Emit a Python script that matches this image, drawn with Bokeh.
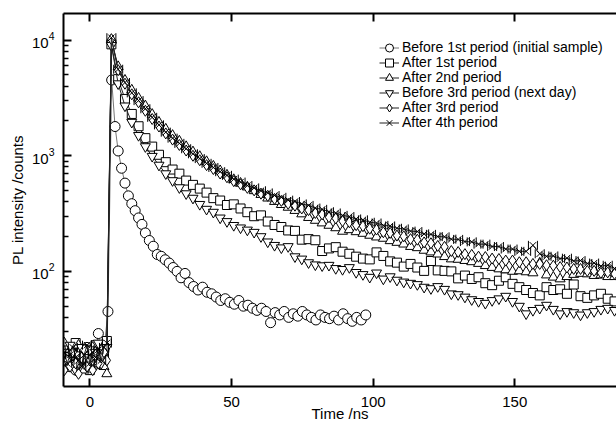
import math
from bokeh.plotting import figure
from bokeh.models import (Range1d, FixedTicker, LinearAxis, Legend, LegendItem,
                          LogTickFormatter, CustomJSTickFormatter)
from bokeh.embed import file_html
from bokeh.resources import INLINE

# ---------------- data ----------------
X_TICKS = [0, 50, 100, 150]
Y_TICKS = [100, 1000, 10000]
Y_MINOR = [20, 30, 40, 50, 60, 70, 80, 90,
           200, 300, 400, 500, 600, 700, 800, 900,
           2000, 3000, 4000, 5000, 6000, 7000, 8000, 9000]

LABELS = ["Before 1st period (initial sample)", "After 1st period", "After 2nd period",
          "Before 3rd period (next day)", "After 3rd period", "After 4th period"]

# series 1 (circles): own time base
C_T = [-9, -8, -7, -6, -5, -4, -3, -2, -1, 0, 1, 2, 3, 4, 5, 6.4,
       7.7, 8.9, 10.0, 11.2, 12.4, 13.6, 14.8, 16.0, 17.2, 18.4,
       19.6, 21.0, 22.4, 23.8, 25.2, 26.6, 28.0, 29.4, 30.8, 32.2,
       33.6, 35.0, 36.6, 38.2, 39.8, 41.4, 43.0, 44.6, 46.2, 47.8,
       49.4, 51.0, 52.6, 54.2, 55.8, 57.4, 59.0, 60.6, 62.2, 63.8,
       65.4, 67.0, 68.6, 70.2, 71.8, 73.4, 75.0, 76.6, 78.2, 79.8,
       81.4, 83.0, 84.6, 86.2, 87.8, 89.4, 91.0, 92.6, 94.2, 95.8,
       97.4]
C_V = [18, 15, 21, 17, 14, 20, 16, 19, 22, 17, 15, 20, 29, 18, 21, 45,
       4520, 1790, 1100, 780, 580, 450, 385, 335, 290, 255,
       215, 185, 165, 140, 135, 126, 118, 108, 100, 88,
       96, 80, 74, 69, 73, 66, 64, 60, 56, 58,
       54, 52, 56, 50, 51, 48, 46, 48, 45, 36,
       44, 42, 45, 40, 43, 41, 45, 42, 40, 38,
       42, 40, 39, 41, 38, 43, 39, 37, 40, 38,
       42]

# shared time base for series 2-6
PRE_T = [-9, -8, -7, -6, -5, -4, -3, -2, -1, 0, 1, 2, 3, 4, 5, 6]
DECAY_T = [7.6, 10.0, 12.4, 14.8, 17.2, 19.6, 22.0, 24.4, 26.8, 29.2,
           31.6, 34.0, 36.4, 38.8, 41.2, 43.6, 46.0, 48.4, 50.8, 53.2,
           55.6, 58.0, 60.4, 62.8, 65.2, 67.6, 70.0, 72.4, 74.8, 77.2,
           79.6, 82.0, 84.4, 86.8, 89.2, 91.6, 94.0, 96.4, 98.8, 101.2,
           103.6, 106.0, 108.4, 110.8, 113.2, 115.6, 118.0, 120.4, 122.8, 125.2,
           127.6, 130.0, 132.4, 134.8, 137.2, 139.6, 142.0, 144.4, 146.8, 149.2,
           151.6, 154.0, 156.4, 158.8, 161.2, 163.6, 166.0, 168.4, 170.8, 173.2,
           175.6, 178.0, 180.4, 182.8, 185.2, 187.6]

S_PRE = [19, 22, 16, 18, 24, 15, 20, 17, 21, 14, 19, 23, 16, 20, 18, 25]
S_V = [9200, 4600, 3100, 2300, 1800, 1420, 1200, 1020, 880, 760,
       700, 610, 560, 520, 480, 430, 410, 375, 380, 350,
       325, 300, 305, 270, 252, 242, 226, 224, 188, 190,
       186, 150, 158, 162, 148, 142, 134, 129, 127, 146,
       136, 122, 119, 110, 116, 108, 101, 123, 102, 101,
       100, 87, 92, 86, 89, 79, 76, 83, 89, 78,
       73, 69, 65, 62, 73, 69, 70, 64, 77, 61,
       59, 62, 64, 58, 55, 54]

T_PRE = [24, 18, 21, 15, 19, 23, 17, 14, 20, 18, 22, 16, 19, 21, 15, 13]
T_V = [10000, 5900, 4500, 3700, 3150, 2700, 2280, 1950, 1700, 1500,
       1340, 1200, 1080, 985, 890, 812, 742, 680, 622, 578,
       536, 498, 462, 430, 402, 378, 358, 336, 314, 292,
       276, 262, 250, 238, 222, 229, 220, 213, 205, 198,
       193, 184, 178, 172, 164, 160, 152, 147, 141, 134,
       128, 127, 124, 121, 117, 112, 108, 105, 103, 100,
       101, 99, 97, 118, 93, 89, 86, 90, 94, 96,
       95, 92, 93, 90, 90, 88]

V_PRE = [17, 20, 23, 16, 14, 19, 22, 18, 15, 21, 17, 20, 24, 16, 19, 22]
V_V = [9000, 4200, 2700, 1950, 1500, 1200, 990, 830, 700, 610,
       530, 470, 430, 380, 345, 325, 290, 270, 250, 238,
       228, 218, 200, 180, 168, 160, 164, 134, 128, 119,
       114, 112, 113, 106, 104, 108, 98, 94, 89, 97,
       86, 90, 84, 81, 79, 77, 73, 71, 74, 70,
       64, 63, 60, 57, 55, 53, 56, 58, 61, 55,
       50, 43, 46, 48, 51, 47, 43, 45, 44, 42,
       44, 45, 47, 48, 46, 45]

D_PRE = [14, 17, 15, 20, 16, 13, 18, 21, 15, 17, 14, 19, 16, 18, 20, 17]
D_V = [10200, 5500, 4200, 3400, 2900, 2450, 2080, 1790, 1560, 1380,
       1240, 1110, 1000, 915, 830, 768, 702, 652, 603, 566,
       528, 502, 470, 450, 423, 407, 384, 370, 350, 339,
       320, 311, 294, 287, 272, 266, 251, 246, 234, 230,
       218, 215, 204, 201, 190, 188, 178, 175, 166, 163,
       150, 147, 141, 139, 134, 133, 129, 128, 124, 124,
       120, 120, 116, 116, 113, 112, 109, 108, 105, 105,
       101, 101, 97, 98, 95, 95]

B_PRE = [20, 16, 19, 22, 18, 17, 15, 19, 23, 16, 20, 18, 21, 17, 22, 24]
B_V = [10500, 5600, 4300, 3500, 3000, 2550, 2150, 1850, 1600, 1420,
       1280, 1150, 1040, 945, 860, 792, 728, 677, 628, 592,
       553, 527, 498, 477, 453, 437, 413, 402, 383, 372,
       353, 344, 328, 320, 305, 298, 284, 279, 266, 262,
       250, 247, 236, 233, 223, 221, 211, 209, 200, 199,
       190, 189, 181, 180, 172, 172, 164, 164, 156, 156,
       149, 149, 168, 142, 135, 136, 129, 130, 123, 124,
       117, 118, 111, 113, 106, 108]

# ---------------- figure ----------------
FONT = "Liberation Sans"
W, H = 616, 425
BL, BT, BB = 63, 13, 39
X0, X1 = -9.3, 185.9
FRAME_W = W - BL
FRAME_H = H - BT - BB
PX_PER_NS = FRAME_W / (X1 - X0)

p = figure(width=W, height=H, x_range=Range1d(X0, X1), y_range=Range1d(10.1, 17000),
           y_axis_type="log", output_backend="svg", toolbar_location=None,
           min_border_left=BL, min_border_right=0, min_border_top=BT, min_border_bottom=BB)
p.outline_line_color = None
p.xgrid.visible = False
p.ygrid.visible = False
p.background_fill_color = "white"
p.border_fill_color = "white"


def style_axis(ax):
    ax.axis_line_width = 2
    ax.axis_line_color = "black"
    ax.major_tick_line_width = 2
    ax.major_tick_line_color = "black"
    ax.minor_tick_line_width = 1.5
    ax.minor_tick_line_color = "black"
    ax.major_tick_in = 8
    ax.major_tick_out = 0
    ax.minor_tick_in = 5
    ax.minor_tick_out = 0
    ax.major_label_text_font = FONT
    ax.major_label_text_font_size = "15px"
    ax.major_label_text_color = "black"
    ax.axis_label_text_font = FONT
    ax.axis_label_text_font_size = "15px"
    ax.axis_label_text_font_style = "normal"
    ax.axis_label_text_color = "black"


xa = p.xaxis[0]
style_axis(xa)
xa.ticker = FixedTicker(ticks=X_TICKS, minor_ticks=[])
xa.major_label_standoff = 10
xa.axis_label = "Time /ns"
xa.axis_label_standoff = -5

ya = p.yaxis[0]
style_axis(ya)
ya.ticker = FixedTicker(ticks=Y_TICKS, minor_ticks=Y_MINOR)
ya.formatter = LogTickFormatter()
ya.axis_label = "PL intensity /counts"
ya.major_label_standoff = 9
ya.axis_label_standoff = 3

top = LinearAxis(ticker=FixedTicker(ticks=X_TICKS, minor_ticks=[]),
                 formatter=CustomJSTickFormatter(code="return ''"))
style_axis(top)
top.major_label_text_font_size = "0px"
top.major_label_standoff = 0
p.add_layout(top, "above")

LINE_COLOR = "#222222"
entries = []

# circles
lr = p.line(C_T, C_V, line_color="#777777", line_width=1)
mr = p.scatter(C_T, C_V, marker="circle", size=10, fill_color="white",
               line_color="black", line_width=1)
entries.append((LABELS[0], [lr, mr]))

series = [
    (S_PRE, S_V, "square", 9, LABELS[1]),
    (T_PRE, T_V, "triangle", 10, LABELS[2]),
    (V_PRE, V_V, "inverted_triangle", 10, LABELS[3]),
    (D_PRE, D_V, "diamond", 11, LABELS[4]),
]
XS = PRE_T + DECAY_T
for pre, dec, marker, size, lab in series:
    ys = pre + dec
    lr = p.line(XS, ys, line_color=LINE_COLOR, line_width=1)
    mr = p.scatter(XS, ys, marker=marker, size=size, fill_color="white",
                   line_color="black", line_width=1)
    entries.append((lab, [lr, mr]))

# bowtie = X plus two vertical edges
BOW = 9
ys = B_PRE + B_V
lr = p.line(XS, ys, line_color=LINE_COLOR, line_width=1)
off = (BOW / 2) / PX_PER_NS
xr = p.scatter(XS, ys, marker="x", size=BOW, line_color="black", line_width=1)
p.scatter([t - off for t in XS], ys, marker="dash", angle=math.pi / 2, size=BOW,
          line_color="black", line_width=1)
p.scatter([t + off for t in XS], ys, marker="dash", angle=math.pi / 2, size=BOW,
          line_color="black", line_width=1)
entries.append((LABELS[5], [lr, xr]))

# one legend per row so that rows can be tight while markers stay large
ROW0, PITCH, BOX = 47, 15, 23
LEG_X = 379 - BL
for k, (lab, rends) in enumerate(entries):
    centre = ROW0 + PITCH * k
    vy = (BT + FRAME_H) - (centre + BOX / 2)
    leg = Legend(items=[LegendItem(label=lab, renderers=rends)], location=(LEG_X, vy),
                 padding=0, margin=0, spacing=0,
                 glyph_height=BOX, glyph_width=20, label_height=BOX, label_standoff=3,
                 label_text_font=FONT, label_text_font_size="14px",
                 label_text_color="black", border_line_color=None,
                 background_fill_alpha=0)
    p.add_layout(leg)

open("out.html", "w").write(file_html(p, INLINE))
